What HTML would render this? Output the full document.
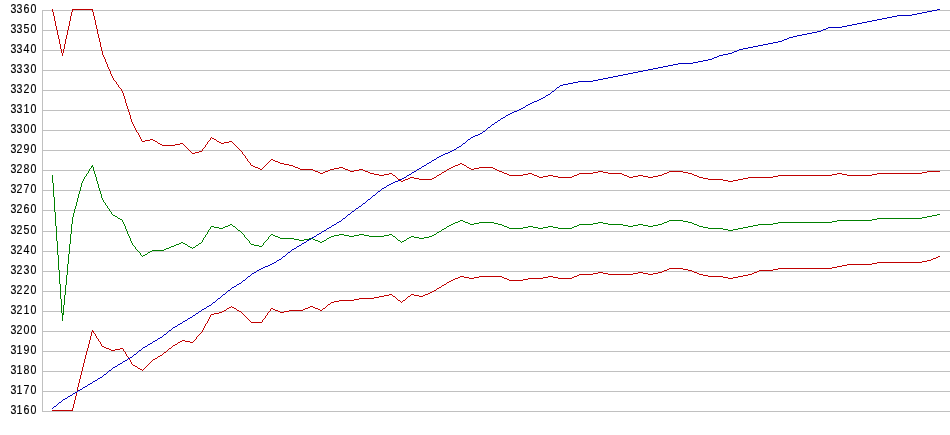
<!DOCTYPE html>
<html lang="en">
<head>
<meta charset="utf-8">
<title>Chart</title>
<style>
html,body{margin:0;padding:0;background:#fff;}
body{width:950px;height:435px;overflow:hidden;}
svg{display:block;position:absolute;left:0;top:0;}
.lbl{font-family:"Liberation Sans",sans-serif;font-size:12px;fill:#000;stroke:#000;stroke-width:0.15px;text-anchor:start;}
</style>
</head>
<body>
<svg width="950" height="435" viewBox="0 0 950 435">
<rect x="0" y="0" width="950" height="435" fill="#ffffff"/>
<g shape-rendering="crispEdges" fill="#c0c0c0">
<rect x="42" y="10" width="908" height="1"/>
<rect x="42" y="30" width="908" height="1"/>
<rect x="42" y="50" width="908" height="1"/>
<rect x="42" y="70" width="908" height="1"/>
<rect x="42" y="90" width="908" height="1"/>
<rect x="42" y="110" width="908" height="1"/>
<rect x="42" y="130" width="908" height="1"/>
<rect x="42" y="150" width="908" height="1"/>
<rect x="42" y="170" width="908" height="1"/>
<rect x="42" y="190" width="908" height="1"/>
<rect x="42" y="210" width="908" height="1"/>
<rect x="42" y="231" width="908" height="1"/>
<rect x="42" y="251" width="908" height="1"/>
<rect x="42" y="271" width="908" height="1"/>
<rect x="42" y="291" width="908" height="1"/>
<rect x="42" y="311" width="908" height="1"/>
<rect x="42" y="331" width="908" height="1"/>
<rect x="42" y="351" width="908" height="1"/>
<rect x="42" y="371" width="908" height="1"/>
<rect x="42" y="391" width="908" height="1"/>
<rect x="42" y="411" width="908" height="1"/>
<rect x="42" y="10" width="1" height="402"/>
</g>
<g class="lbl" transform="scale(0.885,1.05)">
<text x="11.92 18.70 26.61 34.52" y="12.38">3360</text>
<text x="11.92 18.70 26.61 34.52" y="31.43">3350</text>
<text x="11.92 18.70 26.61 34.52" y="50.48">3340</text>
<text x="11.92 18.70 26.61 34.52" y="69.52">3330</text>
<text x="11.92 18.70 26.61 34.52" y="88.57">3320</text>
<text x="11.92 18.70 26.61 34.52" y="107.62">3310</text>
<text x="11.92 18.70 26.61 34.52" y="126.67">3300</text>
<text x="11.92 18.70 26.61 34.52" y="145.71">3290</text>
<text x="11.92 18.70 26.61 34.52" y="164.76">3280</text>
<text x="11.92 18.70 26.61 34.52" y="183.81">3270</text>
<text x="11.92 18.70 26.61 34.52" y="202.86">3260</text>
<text x="11.92 18.70 26.61 34.52" y="222.86">3250</text>
<text x="11.92 18.70 26.61 34.52" y="241.90">3240</text>
<text x="11.92 18.70 26.61 34.52" y="260.95">3230</text>
<text x="11.92 18.70 26.61 34.52" y="280.00">3220</text>
<text x="11.92 18.70 26.61 34.52" y="299.05">3210</text>
<text x="11.92 18.70 26.61 34.52" y="318.10">3200</text>
<text x="11.92 18.70 26.61 34.52" y="337.14">3190</text>
<text x="11.92 18.70 26.61 34.52" y="356.19">3180</text>
<text x="11.92 18.70 26.61 34.52" y="375.24">3170</text>
<text x="11.92 18.70 26.61 34.52" y="394.29">3160</text>
</g>
<g shape-rendering="crispEdges">
<path fill="#c00000" d="M52 9h1v1h-1zM72 9h21v1h-21zM52 10h1v1h-1zM72 10h1v1h-1zM92 10h1v1h-1zM52 11h1v1h-1zM72 11h1v1h-1zM92 11h1v1h-1zM53 12h1v1h-1zM71 12h1v1h-1zM93 12h1v1h-1zM53 13h1v1h-1zM71 13h1v1h-1zM93 13h1v1h-1zM53 14h1v1h-1zM71 14h1v1h-1zM93 14h1v1h-1zM53 15h1v1h-1zM71 15h1v1h-1zM93 15h1v1h-1zM54 16h1v1h-1zM70 16h1v1h-1zM94 16h1v1h-1zM54 17h1v1h-1zM70 17h1v1h-1zM94 17h1v1h-1zM54 18h1v1h-1zM70 18h1v1h-1zM94 18h1v1h-1zM54 19h1v1h-1zM70 19h1v1h-1zM94 19h1v1h-1zM54 20h1v1h-1zM70 20h1v1h-1zM95 20h1v1h-1zM55 21h1v1h-1zM69 21h1v1h-1zM95 21h1v1h-1zM55 22h1v1h-1zM69 22h1v1h-1zM95 22h1v1h-1zM55 23h1v1h-1zM69 23h1v1h-1zM95 23h1v1h-1zM55 24h1v1h-1zM69 24h1v1h-1zM95 24h1v1h-1zM55 25h1v1h-1zM69 25h1v1h-1zM96 25h1v1h-1zM56 26h1v1h-1zM68 26h1v1h-1zM96 26h1v1h-1zM56 27h1v1h-1zM68 27h1v1h-1zM96 27h1v1h-1zM56 28h1v1h-1zM68 28h1v1h-1zM96 28h1v1h-1zM56 29h1v1h-1zM68 29h1v1h-1zM97 29h1v1h-1zM57 30h1v1h-1zM67 30h1v1h-1zM97 30h1v1h-1zM57 31h1v1h-1zM67 31h1v1h-1zM97 31h1v1h-1zM57 32h1v1h-1zM67 32h1v1h-1zM97 32h1v1h-1zM57 33h1v1h-1zM67 33h1v1h-1zM97 33h1v1h-1zM57 34h1v1h-1zM67 34h1v1h-1zM98 34h1v1h-1zM58 35h1v1h-1zM66 35h1v1h-1zM98 35h1v1h-1zM58 36h1v1h-1zM66 36h1v1h-1zM98 36h1v1h-1zM58 37h1v1h-1zM66 37h1v1h-1zM98 37h1v1h-1zM58 38h1v1h-1zM66 38h1v1h-1zM99 38h1v1h-1zM59 39h1v1h-1zM65 39h1v1h-1zM99 39h1v1h-1zM59 40h1v1h-1zM65 40h1v1h-1zM99 40h1v1h-1zM59 41h1v1h-1zM65 41h1v1h-1zM99 41h1v1h-1zM59 42h1v1h-1zM65 42h1v1h-1zM100 42h1v1h-1zM59 43h1v1h-1zM65 43h1v1h-1zM100 43h1v1h-1zM60 44h1v1h-1zM64 44h1v1h-1zM100 44h1v1h-1zM60 45h1v1h-1zM64 45h1v1h-1zM100 45h1v1h-1zM60 46h1v1h-1zM64 46h1v1h-1zM100 46h1v1h-1zM60 47h1v1h-1zM64 47h1v1h-1zM101 47h1v1h-1zM60 48h1v1h-1zM64 48h1v1h-1zM101 48h1v1h-1zM61 49h1v1h-1zM63 49h1v1h-1zM101 49h1v1h-1zM61 50h1v1h-1zM63 50h1v1h-1zM101 50h1v1h-1zM61 51h1v1h-1zM63 51h1v1h-1zM102 51h1v1h-1zM61 52h1v1h-1zM63 52h1v1h-1zM102 52h1v1h-1zM62 53h1v1h-1zM102 53h1v1h-1zM62 54h1v1h-1zM102 54h1v1h-1zM62 55h1v1h-1zM103 55h1v1h-1zM103 56h1v1h-1zM104 57h1v1h-1zM104 58h1v1h-1zM105 59h1v1h-1zM105 60h1v1h-1zM105 61h1v1h-1zM106 62h1v1h-1zM106 63h1v1h-1zM107 64h1v1h-1zM107 65h1v1h-1zM107 66h1v1h-1zM108 67h1v1h-1zM108 68h1v1h-1zM109 69h1v1h-1zM109 70h1v1h-1zM110 71h1v1h-1zM110 72h1v1h-1zM110 73h1v1h-1zM111 74h1v1h-1zM111 75h1v1h-1zM112 76h1v1h-1zM112 77h1v1h-1zM113 78h1v1h-1zM113 79h1v1h-1zM114 80h1v1h-1zM115 81h1v1h-1zM116 82h1v1h-1zM116 83h1v1h-1zM117 84h1v1h-1zM118 85h1v1h-1zM118 86h1v1h-1zM119 87h1v1h-1zM120 88h1v1h-1zM121 89h1v1h-1zM121 90h1v1h-1zM122 91h1v1h-1zM122 92h1v1h-1zM123 93h1v1h-1zM123 94h1v1h-1zM123 95h1v1h-1zM124 96h1v1h-1zM124 97h1v1h-1zM124 98h1v1h-1zM125 99h1v1h-1zM125 100h1v1h-1zM125 101h1v1h-1zM125 102h1v1h-1zM126 103h1v1h-1zM126 104h1v1h-1zM126 105h1v1h-1zM127 106h1v1h-1zM127 107h1v1h-1zM127 108h1v1h-1zM128 109h1v1h-1zM128 110h1v1h-1zM128 111h1v1h-1zM129 112h1v1h-1zM129 113h1v1h-1zM129 114h1v1h-1zM130 115h1v1h-1zM130 116h1v1h-1zM130 117h1v1h-1zM130 118h1v1h-1zM131 119h1v1h-1zM131 120h1v1h-1zM131 121h1v1h-1zM132 122h1v1h-1zM132 123h1v1h-1zM133 124h1v1h-1zM133 125h1v1h-1zM134 126h1v1h-1zM134 127h1v1h-1zM135 128h1v1h-1zM135 129h1v1h-1zM136 130h1v1h-1zM136 131h1v1h-1zM137 132h1v1h-1zM138 133h1v1h-1zM138 134h1v1h-1zM139 135h1v1h-1zM139 136h1v1h-1zM140 137h1v1h-1zM211 137h1v1h-1zM140 138h1v1h-1zM210 138h1v1h-1zM212 138h2v1h-2zM141 139h1v1h-1zM150 139h3v1h-3zM210 139h1v1h-1zM214 139h2v1h-2zM141 140h1v1h-1zM145 140h5v1h-5zM153 140h2v1h-2zM209 140h1v1h-1zM216 140h1v1h-1zM142 141h3v1h-3zM155 141h2v1h-2zM208 141h1v1h-1zM217 141h2v1h-2zM229 141h3v1h-3zM157 142h1v1h-1zM207 142h1v1h-1zM219 142h2v1h-2zM224 142h5v1h-5zM232 142h1v1h-1zM158 143h2v1h-2zM180 143h3v1h-3zM207 143h1v1h-1zM221 143h3v1h-3zM233 143h1v1h-1zM160 144h2v1h-2zM175 144h5v1h-5zM183 144h1v1h-1zM206 144h1v1h-1zM234 144h1v1h-1zM162 145h13v1h-13zM184 145h1v1h-1zM205 145h1v1h-1zM235 145h1v1h-1zM185 146h1v1h-1zM205 146h1v1h-1zM236 146h1v1h-1zM186 147h1v1h-1zM204 147h1v1h-1zM237 147h1v1h-1zM187 148h1v1h-1zM203 148h1v1h-1zM238 148h1v1h-1zM188 149h1v1h-1zM202 149h1v1h-1zM239 149h1v1h-1zM189 150h1v1h-1zM202 150h1v1h-1zM240 150h1v1h-1zM190 151h1v1h-1zM199 151h3v1h-3zM241 151h1v1h-1zM191 152h1v1h-1zM195 152h4v1h-4zM242 152h1v1h-1zM192 153h3v1h-3zM242 153h1v1h-1zM243 154h1v1h-1zM244 155h1v1h-1zM245 156h1v1h-1zM245 157h1v1h-1zM246 158h1v1h-1zM247 159h1v1h-1zM271 159h2v1h-2zM247 160h1v1h-1zM270 160h1v1h-1zM273 160h2v1h-2zM248 161h1v1h-1zM269 161h1v1h-1zM275 161h3v1h-3zM249 162h1v1h-1zM268 162h1v1h-1zM278 162h2v1h-2zM250 163h1v1h-1zM267 163h1v1h-1zM280 163h4v1h-4zM460 163h2v1h-2zM250 164h1v1h-1zM266 164h1v1h-1zM284 164h5v1h-5zM458 164h2v1h-2zM462 164h2v1h-2zM251 165h2v1h-2zM265 165h1v1h-1zM289 165h4v1h-4zM455 165h3v1h-3zM464 165h2v1h-2zM253 166h2v1h-2zM264 166h1v1h-1zM293 166h2v1h-2zM453 166h2v1h-2zM466 166h1v1h-1zM255 167h3v1h-3zM263 167h1v1h-1zM295 167h3v1h-3zM339 167h4v1h-4zM451 167h2v1h-2zM467 167h2v1h-2zM479 167h14v1h-14zM258 168h2v1h-2zM262 168h1v1h-1zM298 168h2v1h-2zM334 168h5v1h-5zM343 168h2v1h-2zM449 168h2v1h-2zM469 168h2v1h-2zM474 168h5v1h-5zM493 168h2v1h-2zM260 169h2v1h-2zM300 169h13v1h-13zM330 169h4v1h-4zM345 169h3v1h-3zM359 169h4v1h-4zM447 169h2v1h-2zM471 169h3v1h-3zM495 169h2v1h-2zM313 170h2v1h-2zM328 170h2v1h-2zM348 170h2v1h-2zM354 170h5v1h-5zM363 170h2v1h-2zM446 170h1v1h-1zM497 170h2v1h-2zM315 171h3v1h-3zM325 171h3v1h-3zM350 171h4v1h-4zM365 171h3v1h-3zM444 171h2v1h-2zM499 171h3v1h-3zM598 171h5v1h-5zM669 171h14v1h-14zM927 171h13v1h-13zM318 172h2v1h-2zM323 172h2v1h-2zM368 172h2v1h-2zM442 172h2v1h-2zM502 172h2v1h-2zM593 172h5v1h-5zM603 172h5v1h-5zM667 172h2v1h-2zM683 172h5v1h-5zM922 172h5v1h-5zM320 173h3v1h-3zM370 173h4v1h-4zM389 173h3v1h-3zM441 173h1v1h-1zM504 173h3v1h-3zM528 173h4v1h-4zM579 173h14v1h-14zM608 173h14v1h-14zM664 173h3v1h-3zM688 173h4v1h-4zM837 173h5v1h-5zM877 173h45v1h-45zM374 174h5v1h-5zM384 174h5v1h-5zM392 174h1v1h-1zM439 174h2v1h-2zM507 174h2v1h-2zM523 174h5v1h-5zM532 174h2v1h-2zM577 174h2v1h-2zM622 174h2v1h-2zM662 174h2v1h-2zM692 174h2v1h-2zM832 174h5v1h-5zM842 174h5v1h-5zM872 174h5v1h-5zM379 175h5v1h-5zM393 175h2v1h-2zM437 175h2v1h-2zM509 175h14v1h-14zM534 175h3v1h-3zM548 175h5v1h-5zM574 175h3v1h-3zM624 175h3v1h-3zM638 175h5v1h-5zM658 175h4v1h-4zM694 175h3v1h-3zM778 175h54v1h-54zM847 175h25v1h-25zM395 176h1v1h-1zM436 176h1v1h-1zM537 176h2v1h-2zM543 176h5v1h-5zM553 176h5v1h-5zM572 176h2v1h-2zM627 176h2v1h-2zM633 176h5v1h-5zM643 176h5v1h-5zM653 176h5v1h-5zM697 176h2v1h-2zM773 176h5v1h-5zM396 177h1v1h-1zM410 177h4v1h-4zM434 177h2v1h-2zM539 177h4v1h-4zM558 177h14v1h-14zM629 177h4v1h-4zM648 177h5v1h-5zM699 177h4v1h-4zM748 177h25v1h-25zM397 178h1v1h-1zM408 178h2v1h-2zM414 178h5v1h-5zM432 178h2v1h-2zM703 178h5v1h-5zM743 178h5v1h-5zM398 179h2v1h-2zM405 179h3v1h-3zM419 179h13v1h-13zM708 179h15v1h-15zM738 179h5v1h-5zM400 180h1v1h-1zM403 180h2v1h-2zM723 180h5v1h-5zM733 180h5v1h-5zM401 181h2v1h-2zM728 181h5v1h-5z"/>
<path fill="#008000" d="M92 165h1v1h-1zM91 166h2v1h-2zM91 167h1v1h-1zM93 167h1v1h-1zM90 168h1v1h-1zM93 168h1v1h-1zM89 169h1v1h-1zM93 169h1v1h-1zM89 170h1v1h-1zM93 170h1v1h-1zM88 171h1v1h-1zM94 171h1v1h-1zM88 172h1v1h-1zM94 172h1v1h-1zM87 173h1v1h-1zM94 173h1v1h-1zM86 174h1v1h-1zM95 174h1v1h-1zM52 175h1v1h-1zM86 175h1v1h-1zM95 175h1v1h-1zM52 176h1v1h-1zM85 176h1v1h-1zM95 176h1v1h-1zM52 177h1v1h-1zM84 177h1v1h-1zM96 177h1v1h-1zM52 178h1v1h-1zM84 178h1v1h-1zM96 178h1v1h-1zM52 179h1v1h-1zM83 179h1v1h-1zM96 179h1v1h-1zM52 180h1v1h-1zM83 180h1v1h-1zM96 180h1v1h-1zM52 181h1v1h-1zM82 181h1v1h-1zM97 181h1v1h-1zM52 182h1v1h-1zM82 182h1v1h-1zM97 182h1v1h-1zM53 183h1v1h-1zM81 183h1v1h-1zM97 183h1v1h-1zM53 184h1v1h-1zM81 184h1v1h-1zM98 184h1v1h-1zM53 185h1v1h-1zM81 185h1v1h-1zM98 185h1v1h-1zM53 186h1v1h-1zM81 186h1v1h-1zM98 186h1v1h-1zM53 187h1v1h-1zM80 187h1v1h-1zM98 187h1v1h-1zM53 188h1v1h-1zM80 188h1v1h-1zM99 188h1v1h-1zM53 189h1v1h-1zM80 189h1v1h-1zM99 189h1v1h-1zM53 190h1v1h-1zM80 190h1v1h-1zM99 190h1v1h-1zM53 191h1v1h-1zM79 191h1v1h-1zM100 191h1v1h-1zM53 192h1v1h-1zM79 192h1v1h-1zM100 192h1v1h-1zM53 193h1v1h-1zM79 193h1v1h-1zM100 193h1v1h-1zM53 194h1v1h-1zM78 194h1v1h-1zM101 194h1v1h-1zM53 195h1v1h-1zM78 195h1v1h-1zM101 195h1v1h-1zM53 196h1v1h-1zM78 196h1v1h-1zM101 196h1v1h-1zM54 197h1v1h-1zM78 197h1v1h-1zM101 197h1v1h-1zM54 198h1v1h-1zM77 198h1v1h-1zM102 198h1v1h-1zM54 199h1v1h-1zM77 199h1v1h-1zM102 199h1v1h-1zM54 200h1v1h-1zM77 200h1v1h-1zM103 200h1v1h-1zM54 201h1v1h-1zM77 201h1v1h-1zM103 201h1v1h-1zM54 202h1v1h-1zM76 202h1v1h-1zM104 202h1v1h-1zM54 203h1v1h-1zM76 203h1v1h-1zM105 203h1v1h-1zM54 204h1v1h-1zM76 204h1v1h-1zM105 204h1v1h-1zM54 205h1v1h-1zM76 205h1v1h-1zM106 205h1v1h-1zM54 206h1v1h-1zM75 206h1v1h-1zM107 206h1v1h-1zM54 207h1v1h-1zM75 207h1v1h-1zM107 207h1v1h-1zM54 208h1v1h-1zM75 208h1v1h-1zM108 208h1v1h-1zM54 209h1v1h-1zM74 209h1v1h-1zM109 209h1v1h-1zM54 210h1v1h-1zM74 210h1v1h-1zM109 210h1v1h-1zM54 211h1v1h-1zM74 211h1v1h-1zM110 211h1v1h-1zM55 212h1v1h-1zM74 212h1v1h-1zM111 212h1v1h-1zM55 213h1v1h-1zM73 213h1v1h-1zM111 213h1v1h-1zM55 214h1v1h-1zM73 214h1v1h-1zM112 214h1v1h-1zM937 214h3v1h-3zM55 215h1v1h-1zM73 215h1v1h-1zM113 215h2v1h-2zM932 215h5v1h-5zM55 216h1v1h-1zM73 216h1v1h-1zM115 216h2v1h-2zM927 216h5v1h-5zM55 217h1v1h-1zM72 217h1v1h-1zM117 217h1v1h-1zM922 217h5v1h-5zM55 218h1v1h-1zM72 218h1v1h-1zM118 218h2v1h-2zM877 218h45v1h-45zM55 219h1v1h-1zM72 219h1v1h-1zM120 219h2v1h-2zM872 219h5v1h-5zM55 220h1v1h-1zM72 220h1v1h-1zM122 220h1v1h-1zM460 220h3v1h-3zM669 220h14v1h-14zM837 220h35v1h-35zM55 221h1v1h-1zM72 221h1v1h-1zM122 221h1v1h-1zM458 221h2v1h-2zM463 221h2v1h-2zM667 221h2v1h-2zM683 221h5v1h-5zM832 221h5v1h-5zM55 222h1v1h-1zM72 222h1v1h-1zM123 222h1v1h-1zM455 222h3v1h-3zM465 222h3v1h-3zM479 222h15v1h-15zM598 222h5v1h-5zM664 222h3v1h-3zM688 222h4v1h-4zM778 222h54v1h-54zM55 223h1v1h-1zM72 223h1v1h-1zM123 223h1v1h-1zM453 223h2v1h-2zM468 223h2v1h-2zM474 223h5v1h-5zM494 223h4v1h-4zM593 223h5v1h-5zM603 223h5v1h-5zM662 223h2v1h-2zM692 223h2v1h-2zM773 223h5v1h-5zM55 224h1v1h-1zM71 224h1v1h-1zM124 224h1v1h-1zM230 224h2v1h-2zM451 224h2v1h-2zM470 224h4v1h-4zM498 224h4v1h-4zM579 224h14v1h-14zM608 224h15v1h-15zM638 224h5v1h-5zM658 224h4v1h-4zM694 224h3v1h-3zM758 224h15v1h-15zM55 225h1v1h-1zM71 225h1v1h-1zM124 225h1v1h-1zM228 225h2v1h-2zM232 225h1v1h-1zM449 225h2v1h-2zM502 225h2v1h-2zM577 225h2v1h-2zM623 225h5v1h-5zM633 225h5v1h-5zM643 225h5v1h-5zM653 225h5v1h-5zM697 225h2v1h-2zM753 225h5v1h-5zM56 226h1v1h-1zM71 226h1v1h-1zM125 226h1v1h-1zM211 226h3v1h-3zM225 226h3v1h-3zM233 226h2v1h-2zM447 226h2v1h-2zM504 226h3v1h-3zM528 226h5v1h-5zM548 226h5v1h-5zM574 226h3v1h-3zM628 226h5v1h-5zM648 226h5v1h-5zM699 226h4v1h-4zM748 226h5v1h-5zM56 227h1v1h-1zM71 227h1v1h-1zM125 227h1v1h-1zM210 227h1v1h-1zM214 227h5v1h-5zM223 227h2v1h-2zM235 227h1v1h-1zM446 227h1v1h-1zM507 227h2v1h-2zM523 227h5v1h-5zM533 227h5v1h-5zM543 227h5v1h-5zM553 227h5v1h-5zM572 227h2v1h-2zM703 227h5v1h-5zM743 227h5v1h-5zM56 228h1v1h-1zM71 228h1v1h-1zM125 228h1v1h-1zM210 228h1v1h-1zM219 228h4v1h-4zM236 228h1v1h-1zM444 228h2v1h-2zM509 228h14v1h-14zM538 228h5v1h-5zM558 228h14v1h-14zM708 228h15v1h-15zM738 228h5v1h-5zM56 229h1v1h-1zM71 229h1v1h-1zM126 229h1v1h-1zM209 229h1v1h-1zM237 229h1v1h-1zM442 229h2v1h-2zM723 229h5v1h-5zM733 229h5v1h-5zM56 230h1v1h-1zM71 230h1v1h-1zM126 230h1v1h-1zM208 230h1v1h-1zM238 230h2v1h-2zM441 230h1v1h-1zM728 230h5v1h-5zM56 231h1v1h-1zM71 231h1v1h-1zM127 231h1v1h-1zM208 231h1v1h-1zM240 231h1v1h-1zM439 231h2v1h-2zM56 232h1v1h-1zM71 232h1v1h-1zM127 232h1v1h-1zM207 232h1v1h-1zM241 232h1v1h-1zM437 232h2v1h-2zM56 233h1v1h-1zM71 233h1v1h-1zM127 233h1v1h-1zM207 233h1v1h-1zM242 233h1v1h-1zM436 233h1v1h-1zM56 234h1v1h-1zM70 234h1v1h-1zM128 234h1v1h-1zM206 234h1v1h-1zM243 234h1v1h-1zM271 234h2v1h-2zM339 234h5v1h-5zM359 234h5v1h-5zM389 234h3v1h-3zM434 234h2v1h-2zM56 235h1v1h-1zM70 235h1v1h-1zM128 235h1v1h-1zM205 235h1v1h-1zM244 235h1v1h-1zM270 235h1v1h-1zM273 235h2v1h-2zM334 235h5v1h-5zM344 235h5v1h-5zM354 235h5v1h-5zM364 235h5v1h-5zM384 235h5v1h-5zM392 235h1v1h-1zM432 235h2v1h-2zM56 236h1v1h-1zM70 236h1v1h-1zM129 236h1v1h-1zM205 236h1v1h-1zM244 236h1v1h-1zM269 236h1v1h-1zM275 236h3v1h-3zM331 236h3v1h-3zM349 236h5v1h-5zM369 236h15v1h-15zM393 236h2v1h-2zM411 236h3v1h-3zM429 236h3v1h-3zM56 237h1v1h-1zM70 237h1v1h-1zM129 237h1v1h-1zM204 237h1v1h-1zM245 237h1v1h-1zM268 237h1v1h-1zM278 237h2v1h-2zM329 237h2v1h-2zM395 237h1v1h-1zM409 237h2v1h-2zM414 237h5v1h-5zM424 237h5v1h-5zM56 238h1v1h-1zM70 238h1v1h-1zM130 238h1v1h-1zM203 238h1v1h-1zM246 238h1v1h-1zM268 238h1v1h-1zM280 238h14v1h-14zM309 238h4v1h-4zM327 238h2v1h-2zM396 238h1v1h-1zM407 238h2v1h-2zM419 238h5v1h-5zM56 239h1v1h-1zM70 239h1v1h-1zM130 239h1v1h-1zM203 239h1v1h-1zM247 239h1v1h-1zM267 239h1v1h-1zM294 239h5v1h-5zM304 239h5v1h-5zM313 239h2v1h-2zM326 239h1v1h-1zM397 239h1v1h-1zM406 239h1v1h-1zM56 240h1v1h-1zM70 240h1v1h-1zM130 240h1v1h-1zM202 240h1v1h-1zM248 240h1v1h-1zM266 240h1v1h-1zM299 240h5v1h-5zM315 240h3v1h-3zM324 240h2v1h-2zM398 240h2v1h-2zM404 240h2v1h-2zM57 241h1v1h-1zM70 241h1v1h-1zM131 241h1v1h-1zM202 241h1v1h-1zM249 241h1v1h-1zM265 241h1v1h-1zM318 241h2v1h-2zM322 241h2v1h-2zM400 241h1v1h-1zM402 241h2v1h-2zM57 242h1v1h-1zM70 242h1v1h-1zM131 242h1v1h-1zM181 242h2v1h-2zM201 242h1v1h-1zM249 242h1v1h-1zM264 242h1v1h-1zM320 242h2v1h-2zM401 242h1v1h-1zM57 243h1v1h-1zM70 243h1v1h-1zM132 243h1v1h-1zM179 243h2v1h-2zM183 243h2v1h-2zM199 243h2v1h-2zM250 243h1v1h-1zM263 243h1v1h-1zM57 244h1v1h-1zM69 244h1v1h-1zM132 244h1v1h-1zM176 244h3v1h-3zM185 244h2v1h-2zM198 244h1v1h-1zM251 244h3v1h-3zM263 244h1v1h-1zM57 245h1v1h-1zM69 245h1v1h-1zM133 245h1v1h-1zM174 245h2v1h-2zM187 245h1v1h-1zM196 245h2v1h-2zM254 245h5v1h-5zM262 245h1v1h-1zM57 246h1v1h-1zM69 246h1v1h-1zM134 246h1v1h-1zM171 246h3v1h-3zM188 246h2v1h-2zM195 246h1v1h-1zM259 246h3v1h-3zM57 247h1v1h-1zM69 247h1v1h-1zM135 247h1v1h-1zM169 247h2v1h-2zM190 247h2v1h-2zM193 247h2v1h-2zM57 248h1v1h-1zM69 248h1v1h-1zM135 248h1v1h-1zM166 248h3v1h-3zM192 248h1v1h-1zM57 249h1v1h-1zM69 249h1v1h-1zM136 249h1v1h-1zM164 249h2v1h-2zM57 250h1v1h-1zM69 250h1v1h-1zM137 250h1v1h-1zM152 250h12v1h-12zM57 251h1v1h-1zM69 251h1v1h-1zM138 251h1v1h-1zM150 251h2v1h-2zM57 252h1v1h-1zM69 252h1v1h-1zM139 252h1v1h-1zM148 252h2v1h-2zM57 253h1v1h-1zM69 253h1v1h-1zM140 253h1v1h-1zM147 253h1v1h-1zM57 254h1v1h-1zM68 254h1v1h-1zM140 254h1v1h-1zM145 254h2v1h-2zM58 255h1v1h-1zM68 255h1v1h-1zM141 255h1v1h-1zM143 255h2v1h-2zM58 256h1v1h-1zM68 256h1v1h-1zM142 256h1v1h-1zM58 257h1v1h-1zM68 257h1v1h-1zM58 258h1v1h-1zM68 258h1v1h-1zM58 259h1v1h-1zM68 259h1v1h-1zM58 260h1v1h-1zM68 260h1v1h-1zM58 261h1v1h-1zM68 261h1v1h-1zM58 262h1v1h-1zM68 262h1v1h-1zM58 263h1v1h-1zM68 263h1v1h-1zM58 264h1v1h-1zM67 264h1v1h-1zM58 265h1v1h-1zM67 265h1v1h-1zM58 266h1v1h-1zM67 266h1v1h-1zM58 267h1v1h-1zM67 267h1v1h-1zM58 268h1v1h-1zM67 268h1v1h-1zM58 269h1v1h-1zM67 269h1v1h-1zM59 270h1v1h-1zM67 270h1v1h-1zM59 271h1v1h-1zM67 271h1v1h-1zM59 272h1v1h-1zM67 272h1v1h-1zM59 273h1v1h-1zM67 273h1v1h-1zM59 274h1v1h-1zM67 274h1v1h-1zM59 275h1v1h-1zM66 275h1v1h-1zM59 276h1v1h-1zM66 276h1v1h-1zM59 277h1v1h-1zM66 277h1v1h-1zM59 278h1v1h-1zM66 278h1v1h-1zM59 279h1v1h-1zM66 279h1v1h-1zM59 280h1v1h-1zM66 280h1v1h-1zM59 281h1v1h-1zM66 281h1v1h-1zM59 282h1v1h-1zM66 282h1v1h-1zM59 283h1v1h-1zM66 283h1v1h-1zM60 284h1v1h-1zM66 284h1v1h-1zM60 285h1v1h-1zM65 285h1v1h-1zM60 286h1v1h-1zM65 286h1v1h-1zM60 287h1v1h-1zM65 287h1v1h-1zM60 288h1v1h-1zM65 288h1v1h-1zM60 289h1v1h-1zM65 289h1v1h-1zM60 290h1v1h-1zM65 290h1v1h-1zM60 291h1v1h-1zM65 291h1v1h-1zM60 292h1v1h-1zM65 292h1v1h-1zM60 293h1v1h-1zM65 293h1v1h-1zM60 294h1v1h-1zM65 294h1v1h-1zM60 295h1v1h-1zM64 295h1v1h-1zM60 296h1v1h-1zM64 296h1v1h-1zM60 297h1v1h-1zM64 297h1v1h-1zM60 298h1v1h-1zM64 298h1v1h-1zM61 299h1v1h-1zM64 299h1v1h-1zM61 300h1v1h-1zM64 300h1v1h-1zM61 301h1v1h-1zM64 301h1v1h-1zM61 302h1v1h-1zM64 302h1v1h-1zM61 303h1v1h-1zM64 303h1v1h-1zM61 304h1v1h-1zM64 304h1v1h-1zM61 305h1v1h-1zM63 305h1v1h-1zM61 306h1v1h-1zM63 306h1v1h-1zM61 307h1v1h-1zM63 307h1v1h-1zM61 308h1v1h-1zM63 308h1v1h-1zM61 309h1v1h-1zM63 309h1v1h-1zM61 310h1v1h-1zM63 310h1v1h-1zM61 311h1v1h-1zM63 311h1v1h-1zM61 312h1v1h-1zM63 312h1v1h-1zM62 313h2v1h-2zM62 314h2v1h-2zM62 315h1v1h-1zM62 316h1v1h-1zM62 317h1v1h-1zM62 318h1v1h-1zM62 319h1v1h-1zM62 320h1v1h-1z"/>
<path fill="#c00000" d="M938 256h2v1h-2zM936 257h2v1h-2zM933 258h3v1h-3zM931 259h2v1h-2zM927 260h4v1h-4zM922 261h5v1h-5zM877 262h45v1h-45zM872 263h5v1h-5zM847 264h25v1h-25zM842 265h5v1h-5zM837 266h5v1h-5zM832 267h5v1h-5zM669 268h14v1h-14zM778 268h54v1h-54zM667 269h2v1h-2zM683 269h5v1h-5zM773 269h5v1h-5zM664 270h3v1h-3zM688 270h4v1h-4zM759 270h14v1h-14zM662 271h2v1h-2zM692 271h2v1h-2zM757 271h2v1h-2zM598 272h5v1h-5zM638 272h5v1h-5zM658 272h4v1h-4zM694 272h3v1h-3zM754 272h3v1h-3zM593 273h5v1h-5zM603 273h5v1h-5zM633 273h5v1h-5zM643 273h5v1h-5zM653 273h5v1h-5zM697 273h2v1h-2zM752 273h2v1h-2zM579 274h14v1h-14zM608 274h25v1h-25zM648 274h5v1h-5zM699 274h4v1h-4zM748 274h4v1h-4zM577 275h2v1h-2zM703 275h5v1h-5zM743 275h5v1h-5zM460 276h4v1h-4zM479 276h23v1h-23zM548 276h5v1h-5zM574 276h3v1h-3zM708 276h15v1h-15zM738 276h5v1h-5zM458 277h2v1h-2zM464 277h5v1h-5zM474 277h5v1h-5zM502 277h2v1h-2zM543 277h5v1h-5zM553 277h5v1h-5zM572 277h2v1h-2zM723 277h5v1h-5zM733 277h5v1h-5zM455 278h3v1h-3zM469 278h5v1h-5zM504 278h3v1h-3zM528 278h15v1h-15zM558 278h14v1h-14zM728 278h5v1h-5zM453 279h2v1h-2zM507 279h2v1h-2zM523 279h5v1h-5zM451 280h2v1h-2zM509 280h14v1h-14zM449 281h2v1h-2zM447 282h2v1h-2zM446 283h1v1h-1zM444 284h2v1h-2zM442 285h2v1h-2zM441 286h1v1h-1zM439 287h2v1h-2zM437 288h2v1h-2zM436 289h1v1h-1zM434 290h2v1h-2zM432 291h2v1h-2zM430 292h2v1h-2zM428 293h2v1h-2zM389 294h3v1h-3zM411 294h3v1h-3zM425 294h3v1h-3zM384 295h5v1h-5zM392 295h1v1h-1zM410 295h1v1h-1zM414 295h5v1h-5zM423 295h2v1h-2zM379 296h5v1h-5zM393 296h2v1h-2zM408 296h2v1h-2zM419 296h4v1h-4zM374 297h5v1h-5zM395 297h1v1h-1zM407 297h1v1h-1zM359 298h15v1h-15zM396 298h1v1h-1zM406 298h1v1h-1zM354 299h5v1h-5zM397 299h1v1h-1zM405 299h1v1h-1zM339 300h15v1h-15zM398 300h2v1h-2zM403 300h2v1h-2zM334 301h5v1h-5zM400 301h1v1h-1zM402 301h1v1h-1zM331 302h3v1h-3zM401 302h1v1h-1zM330 303h1v1h-1zM328 304h2v1h-2zM327 305h1v1h-1zM231 306h1v1h-1zM310 306h3v1h-3zM326 306h1v1h-1zM229 307h2v1h-2zM232 307h2v1h-2zM308 307h2v1h-2zM313 307h2v1h-2zM325 307h1v1h-1zM227 308h2v1h-2zM234 308h2v1h-2zM271 308h2v1h-2zM305 308h3v1h-3zM315 308h3v1h-3zM323 308h2v1h-2zM226 309h1v1h-1zM236 309h1v1h-1zM270 309h1v1h-1zM273 309h2v1h-2zM303 309h2v1h-2zM318 309h2v1h-2zM322 309h1v1h-1zM224 310h2v1h-2zM237 310h2v1h-2zM270 310h1v1h-1zM275 310h3v1h-3zM289 310h14v1h-14zM320 310h2v1h-2zM222 311h2v1h-2zM239 311h2v1h-2zM269 311h1v1h-1zM278 311h2v1h-2zM284 311h5v1h-5zM219 312h3v1h-3zM241 312h1v1h-1zM268 312h1v1h-1zM280 312h4v1h-4zM214 313h5v1h-5zM242 313h1v1h-1zM267 313h1v1h-1zM211 314h3v1h-3zM243 314h1v1h-1zM267 314h1v1h-1zM210 315h1v1h-1zM244 315h1v1h-1zM266 315h1v1h-1zM210 316h1v1h-1zM245 316h1v1h-1zM265 316h1v1h-1zM209 317h1v1h-1zM246 317h1v1h-1zM265 317h1v1h-1zM209 318h1v1h-1zM247 318h1v1h-1zM264 318h1v1h-1zM208 319h1v1h-1zM248 319h1v1h-1zM263 319h1v1h-1zM208 320h1v1h-1zM249 320h1v1h-1zM262 320h1v1h-1zM207 321h1v1h-1zM250 321h1v1h-1zM262 321h1v1h-1zM207 322h1v1h-1zM251 322h11v1h-11zM206 323h1v1h-1zM205 324h1v1h-1zM205 325h1v1h-1zM204 326h1v1h-1zM204 327h1v1h-1zM203 328h1v1h-1zM203 329h1v1h-1zM92 330h1v1h-1zM202 330h1v1h-1zM92 331h2v1h-2zM202 331h1v1h-1zM91 332h1v1h-1zM93 332h1v1h-1zM201 332h1v1h-1zM91 333h1v1h-1zM94 333h1v1h-1zM200 333h1v1h-1zM91 334h1v1h-1zM95 334h1v1h-1zM199 334h1v1h-1zM91 335h1v1h-1zM95 335h1v1h-1zM198 335h1v1h-1zM90 336h1v1h-1zM96 336h1v1h-1zM197 336h1v1h-1zM90 337h1v1h-1zM96 337h1v1h-1zM196 337h1v1h-1zM90 338h1v1h-1zM97 338h1v1h-1zM196 338h1v1h-1zM90 339h1v1h-1zM98 339h1v1h-1zM195 339h1v1h-1zM89 340h1v1h-1zM98 340h1v1h-1zM182 340h3v1h-3zM194 340h1v1h-1zM89 341h1v1h-1zM99 341h1v1h-1zM180 341h2v1h-2zM185 341h5v1h-5zM193 341h1v1h-1zM89 342h1v1h-1zM100 342h1v1h-1zM178 342h2v1h-2zM190 342h3v1h-3zM89 343h1v1h-1zM100 343h1v1h-1zM177 343h1v1h-1zM88 344h1v1h-1zM101 344h1v1h-1zM175 344h2v1h-2zM88 345h1v1h-1zM101 345h1v1h-1zM173 345h2v1h-2zM88 346h1v1h-1zM102 346h2v1h-2zM172 346h1v1h-1zM88 347h1v1h-1zM104 347h2v1h-2zM171 347h1v1h-1zM87 348h1v1h-1zM106 348h3v1h-3zM120 348h3v1h-3zM169 348h2v1h-2zM87 349h1v1h-1zM109 349h2v1h-2zM115 349h5v1h-5zM123 349h1v1h-1zM168 349h1v1h-1zM87 350h1v1h-1zM111 350h4v1h-4zM123 350h1v1h-1zM167 350h1v1h-1zM86 351h1v1h-1zM124 351h1v1h-1zM166 351h1v1h-1zM86 352h1v1h-1zM125 352h1v1h-1zM164 352h2v1h-2zM86 353h1v1h-1zM125 353h1v1h-1zM163 353h1v1h-1zM86 354h1v1h-1zM126 354h1v1h-1zM162 354h1v1h-1zM85 355h1v1h-1zM126 355h1v1h-1zM160 355h2v1h-2zM85 356h1v1h-1zM127 356h1v1h-1zM158 356h2v1h-2zM85 357h1v1h-1zM128 357h1v1h-1zM157 357h1v1h-1zM85 358h1v1h-1zM128 358h1v1h-1zM155 358h2v1h-2zM84 359h1v1h-1zM129 359h1v1h-1zM153 359h2v1h-2zM84 360h1v1h-1zM130 360h1v1h-1zM152 360h1v1h-1zM84 361h1v1h-1zM130 361h1v1h-1zM151 361h1v1h-1zM84 362h1v1h-1zM131 362h1v1h-1zM150 362h1v1h-1zM83 363h1v1h-1zM131 363h1v1h-1zM149 363h1v1h-1zM83 364h1v1h-1zM132 364h1v1h-1zM148 364h1v1h-1zM83 365h1v1h-1zM133 365h2v1h-2zM147 365h1v1h-1zM83 366h1v1h-1zM135 366h2v1h-2zM146 366h1v1h-1zM82 367h1v1h-1zM137 367h1v1h-1zM145 367h1v1h-1zM82 368h1v1h-1zM138 368h2v1h-2zM144 368h1v1h-1zM82 369h1v1h-1zM140 369h2v1h-2zM143 369h1v1h-1zM82 370h1v1h-1zM142 370h1v1h-1zM81 371h1v1h-1zM81 372h1v1h-1zM81 373h1v1h-1zM81 374h1v1h-1zM80 375h1v1h-1zM80 376h1v1h-1zM80 377h1v1h-1zM80 378h1v1h-1zM79 379h1v1h-1zM79 380h1v1h-1zM79 381h1v1h-1zM79 382h1v1h-1zM78 383h1v1h-1zM78 384h1v1h-1zM78 385h1v1h-1zM78 386h1v1h-1zM77 387h1v1h-1zM77 388h1v1h-1zM77 389h1v1h-1zM77 390h1v1h-1zM77 391h1v1h-1zM76 392h1v1h-1zM76 393h1v1h-1zM76 394h1v1h-1zM76 395h1v1h-1zM75 396h1v1h-1zM75 397h1v1h-1zM75 398h1v1h-1zM75 399h1v1h-1zM74 400h1v1h-1zM74 401h1v1h-1zM74 402h1v1h-1zM74 403h1v1h-1zM73 404h1v1h-1zM73 405h1v1h-1zM73 406h1v1h-1zM73 407h1v1h-1zM72 408h1v1h-1zM72 409h1v1h-1zM52 410h21v1h-21z"/>
<path fill="#0000c0" d="M937 9h3v1h-3zM932 10h5v1h-5zM927 11h5v1h-5zM922 12h5v1h-5zM917 13h5v1h-5zM912 14h5v1h-5zM897 15h15v1h-15zM892 16h5v1h-5zM887 17h5v1h-5zM882 18h5v1h-5zM877 19h5v1h-5zM872 20h5v1h-5zM867 21h5v1h-5zM862 22h5v1h-5zM857 23h5v1h-5zM852 24h5v1h-5zM847 25h5v1h-5zM842 26h5v1h-5zM828 27h14v1h-14zM826 28h2v1h-2zM823 29h3v1h-3zM821 30h2v1h-2zM817 31h4v1h-4zM812 32h5v1h-5zM807 33h5v1h-5zM802 34h5v1h-5zM797 35h5v1h-5zM793 36h4v1h-4zM789 37h4v1h-4zM787 38h2v1h-2zM784 39h3v1h-3zM782 40h2v1h-2zM778 41h4v1h-4zM773 42h5v1h-5zM768 43h5v1h-5zM763 44h5v1h-5zM758 45h5v1h-5zM753 46h5v1h-5zM748 47h5v1h-5zM743 48h5v1h-5zM739 49h4v1h-4zM737 50h2v1h-2zM734 51h3v1h-3zM732 52h2v1h-2zM728 53h4v1h-4zM723 54h5v1h-5zM719 55h4v1h-4zM717 56h2v1h-2zM714 57h3v1h-3zM712 58h2v1h-2zM708 59h4v1h-4zM703 60h5v1h-5zM698 61h5v1h-5zM693 62h5v1h-5zM678 63h15v1h-15zM673 64h5v1h-5zM668 65h5v1h-5zM663 66h5v1h-5zM658 67h5v1h-5zM653 68h5v1h-5zM648 69h5v1h-5zM643 70h5v1h-5zM638 71h5v1h-5zM633 72h5v1h-5zM628 73h5v1h-5zM623 74h5v1h-5zM618 75h5v1h-5zM613 76h5v1h-5zM608 77h5v1h-5zM603 78h5v1h-5zM598 79h5v1h-5zM593 80h5v1h-5zM578 81h15v1h-15zM573 82h5v1h-5zM568 83h5v1h-5zM563 84h5v1h-5zM560 85h3v1h-3zM559 86h1v1h-1zM557 87h2v1h-2zM556 88h1v1h-1zM555 89h1v1h-1zM554 90h1v1h-1zM552 91h2v1h-2zM551 92h1v1h-1zM550 93h1v1h-1zM548 94h2v1h-2zM546 95h2v1h-2zM545 96h1v1h-1zM543 97h2v1h-2zM541 98h2v1h-2zM539 99h2v1h-2zM537 100h2v1h-2zM534 101h3v1h-3zM532 102h2v1h-2zM530 103h2v1h-2zM528 104h2v1h-2zM526 105h2v1h-2zM525 106h1v1h-1zM523 107h2v1h-2zM521 108h2v1h-2zM519 109h2v1h-2zM517 110h2v1h-2zM514 111h3v1h-3zM512 112h2v1h-2zM510 113h2v1h-2zM508 114h2v1h-2zM506 115h2v1h-2zM505 116h1v1h-1zM503 117h2v1h-2zM501 118h2v1h-2zM500 119h1v1h-1zM498 120h2v1h-2zM497 121h1v1h-1zM495 122h2v1h-2zM494 123h1v1h-1zM492 124h2v1h-2zM491 125h1v1h-1zM490 126h1v1h-1zM488 127h2v1h-2zM487 128h1v1h-1zM486 129h1v1h-1zM485 130h1v1h-1zM483 131h2v1h-2zM482 132h1v1h-1zM480 133h2v1h-2zM478 134h2v1h-2zM475 135h3v1h-3zM473 136h2v1h-2zM471 137h2v1h-2zM470 138h1v1h-1zM468 139h2v1h-2zM467 140h1v1h-1zM466 141h1v1h-1zM465 142h1v1h-1zM463 143h2v1h-2zM462 144h1v1h-1zM461 145h1v1h-1zM459 146h2v1h-2zM457 147h2v1h-2zM456 148h1v1h-1zM454 149h2v1h-2zM452 150h2v1h-2zM450 151h2v1h-2zM448 152h2v1h-2zM445 153h3v1h-3zM443 154h2v1h-2zM441 155h2v1h-2zM439 156h2v1h-2zM437 157h2v1h-2zM436 158h1v1h-1zM434 159h2v1h-2zM432 160h2v1h-2zM431 161h1v1h-1zM429 162h2v1h-2zM427 163h2v1h-2zM426 164h1v1h-1zM424 165h2v1h-2zM422 166h2v1h-2zM421 167h1v1h-1zM419 168h2v1h-2zM417 169h2v1h-2zM416 170h1v1h-1zM414 171h2v1h-2zM412 172h2v1h-2zM411 173h1v1h-1zM409 174h2v1h-2zM407 175h2v1h-2zM406 176h1v1h-1zM404 177h2v1h-2zM402 178h2v1h-2zM400 179h2v1h-2zM398 180h2v1h-2zM395 181h3v1h-3zM393 182h2v1h-2zM391 183h2v1h-2zM389 184h2v1h-2zM387 185h2v1h-2zM386 186h1v1h-1zM384 187h2v1h-2zM382 188h2v1h-2zM381 189h1v1h-1zM380 190h1v1h-1zM378 191h2v1h-2zM377 192h1v1h-1zM376 193h1v1h-1zM375 194h1v1h-1zM373 195h2v1h-2zM372 196h1v1h-1zM371 197h1v1h-1zM370 198h1v1h-1zM368 199h2v1h-2zM367 200h1v1h-1zM366 201h1v1h-1zM365 202h1v1h-1zM363 203h2v1h-2zM362 204h1v1h-1zM361 205h1v1h-1zM359 206h2v1h-2zM358 207h1v1h-1zM356 208h2v1h-2zM355 209h1v1h-1zM354 210h1v1h-1zM352 211h2v1h-2zM351 212h1v1h-1zM350 213h1v1h-1zM348 214h2v1h-2zM347 215h1v1h-1zM346 216h1v1h-1zM345 217h1v1h-1zM343 218h2v1h-2zM342 219h1v1h-1zM341 220h1v1h-1zM339 221h2v1h-2zM337 222h2v1h-2zM336 223h1v1h-1zM334 224h2v1h-2zM332 225h2v1h-2zM331 226h1v1h-1zM329 227h2v1h-2zM327 228h2v1h-2zM326 229h1v1h-1zM324 230h2v1h-2zM322 231h2v1h-2zM321 232h1v1h-1zM319 233h2v1h-2zM317 234h2v1h-2zM316 235h1v1h-1zM314 236h2v1h-2zM312 237h2v1h-2zM311 238h1v1h-1zM309 239h2v1h-2zM307 240h2v1h-2zM306 241h1v1h-1zM304 242h2v1h-2zM302 243h2v1h-2zM301 244h1v1h-1zM299 245h2v1h-2zM297 246h2v1h-2zM296 247h1v1h-1zM294 248h2v1h-2zM292 249h2v1h-2zM291 250h1v1h-1zM290 251h1v1h-1zM288 252h2v1h-2zM287 253h1v1h-1zM286 254h1v1h-1zM285 255h1v1h-1zM283 256h2v1h-2zM282 257h1v1h-1zM281 258h1v1h-1zM279 259h2v1h-2zM277 260h2v1h-2zM276 261h1v1h-1zM274 262h2v1h-2zM272 263h2v1h-2zM270 264h2v1h-2zM268 265h2v1h-2zM265 266h3v1h-3zM263 267h2v1h-2zM261 268h2v1h-2zM259 269h2v1h-2zM257 270h2v1h-2zM256 271h1v1h-1zM254 272h2v1h-2zM252 273h2v1h-2zM251 274h1v1h-1zM250 275h1v1h-1zM248 276h2v1h-2zM247 277h1v1h-1zM246 278h1v1h-1zM245 279h1v1h-1zM243 280h2v1h-2zM242 281h1v1h-1zM241 282h1v1h-1zM239 283h2v1h-2zM237 284h2v1h-2zM236 285h1v1h-1zM234 286h2v1h-2zM232 287h2v1h-2zM231 288h1v1h-1zM230 289h1v1h-1zM228 290h2v1h-2zM227 291h1v1h-1zM226 292h1v1h-1zM225 293h1v1h-1zM223 294h2v1h-2zM222 295h1v1h-1zM221 296h1v1h-1zM220 297h1v1h-1zM218 298h2v1h-2zM217 299h1v1h-1zM216 300h1v1h-1zM215 301h1v1h-1zM213 302h2v1h-2zM212 303h1v1h-1zM211 304h1v1h-1zM209 305h2v1h-2zM207 306h2v1h-2zM206 307h1v1h-1zM204 308h2v1h-2zM202 309h2v1h-2zM201 310h1v1h-1zM199 311h2v1h-2zM198 312h1v1h-1zM196 313h2v1h-2zM195 314h1v1h-1zM193 315h2v1h-2zM192 316h1v1h-1zM190 317h2v1h-2zM188 318h2v1h-2zM187 319h1v1h-1zM185 320h2v1h-2zM183 321h2v1h-2zM182 322h1v1h-1zM180 323h2v1h-2zM178 324h2v1h-2zM177 325h1v1h-1zM175 326h2v1h-2zM173 327h2v1h-2zM172 328h1v1h-1zM171 329h1v1h-1zM169 330h2v1h-2zM168 331h1v1h-1zM167 332h1v1h-1zM166 333h1v1h-1zM164 334h2v1h-2zM163 335h1v1h-1zM162 336h1v1h-1zM160 337h2v1h-2zM158 338h2v1h-2zM157 339h1v1h-1zM155 340h2v1h-2zM153 341h2v1h-2zM152 342h1v1h-1zM150 343h2v1h-2zM148 344h2v1h-2zM147 345h1v1h-1zM145 346h2v1h-2zM143 347h2v1h-2zM142 348h1v1h-1zM141 349h1v1h-1zM139 350h2v1h-2zM138 351h1v1h-1zM137 352h1v1h-1zM136 353h1v1h-1zM134 354h2v1h-2zM133 355h1v1h-1zM132 356h1v1h-1zM130 357h2v1h-2zM128 358h2v1h-2zM127 359h1v1h-1zM125 360h2v1h-2zM123 361h2v1h-2zM122 362h1v1h-1zM120 363h2v1h-2zM118 364h2v1h-2zM117 365h1v1h-1zM115 366h2v1h-2zM113 367h2v1h-2zM112 368h1v1h-1zM111 369h1v1h-1zM109 370h2v1h-2zM108 371h1v1h-1zM107 372h1v1h-1zM106 373h1v1h-1zM104 374h2v1h-2zM103 375h1v1h-1zM102 376h1v1h-1zM100 377h2v1h-2zM98 378h2v1h-2zM97 379h1v1h-1zM95 380h2v1h-2zM93 381h2v1h-2zM92 382h1v1h-1zM90 383h2v1h-2zM88 384h2v1h-2zM87 385h1v1h-1zM85 386h2v1h-2zM83 387h2v1h-2zM82 388h1v1h-1zM80 389h2v1h-2zM78 390h2v1h-2zM77 391h1v1h-1zM75 392h2v1h-2zM73 393h2v1h-2zM72 394h1v1h-1zM70 395h2v1h-2zM68 396h2v1h-2zM67 397h1v1h-1zM65 398h2v1h-2zM63 399h2v1h-2zM62 400h1v1h-1zM61 401h1v1h-1zM59 402h2v1h-2zM58 403h1v1h-1zM57 404h1v1h-1zM56 405h1v1h-1zM54 406h2v1h-2zM53 407h1v1h-1zM52 408h1v1h-1z"/>
</g>
</svg>
</body>
</html>
